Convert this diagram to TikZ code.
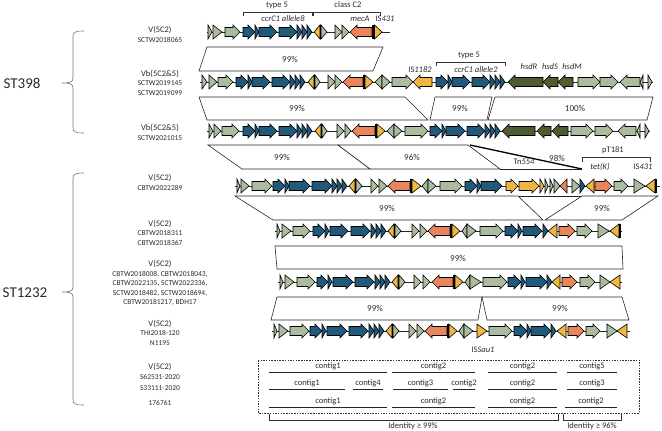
\documentclass[tikz,border=0pt]{standalone}
\usepackage{fontspec}
\setmainfont{Carlito}
\usepackage{xcolor}
\usepackage{tikz}
\definecolor{gsage}{HTML}{AABB9E}
\definecolor{gblue}{HTML}{21597A}
\definecolor{gyell}{HTML}{EDB740}
\definecolor{gorng}{HTML}{E9845B}
\definecolor{golive}{HTML}{4E5C30}
\definecolor{lbltext}{HTML}{2B2B2B}
\tikzset{
  orf/.style={draw=black, line width=0.6pt, line join=miter},
  spine/.style={draw=black!85, line width=0.6pt},
  ident/.style={draw=black!85, fill=white, line width=0.6pt},
  pct/.style={font=\fontsize{9}{10}\selectfont, text=lbltext, inner sep=0.5pt},
  glbl/.style={font=\fontsize{8.5}{10}\selectfont\itshape, text=lbltext, inner sep=0.5pt},
  blbl/.style={font=\fontsize{8.5}{10}\selectfont, text=lbltext, inner sep=0.5pt},
  strain/.style={align=center, font=\fontsize{7.5}{9.5}\selectfont, text=lbltext, inner sep=0pt},
  stlbl/.style={font=\fontsize{15}{18}\selectfont, text=lbltext, inner sep=0pt},
  brk/.style={draw=black!80, line width=0.5pt},
  brc/.style={draw=black!55, line width=0.6pt},
  ctg/.style={draw=black!85, line width=1pt},
  ctglbl/.style={above=1.5pt, font=\fontsize{8.5}{10}\selectfont, text=lbltext, inner sep=0.5pt},
}
% gene glyphs: x start, x end, y, fill
\newcommand{\orfR}[4]{\filldraw[orf, fill=#4] (#1,#3-4.5) -- (#2-7,#3-4.5) -- (#2-7,#3-7) -- (#2,#3)
  -- (#2-7,#3+7) -- (#2-7,#3+4.5) -- (#1,#3+4.5) -- cycle;}
\newcommand{\orfL}[4]{\filldraw[orf, fill=#4] (#2,#3-4.5) -- (#1+7,#3-4.5) -- (#1+7,#3-7) -- (#1,#3)
  -- (#1+7,#3+7) -- (#1+7,#3+4.5) -- (#2,#3+4.5) -- cycle;}
\newcommand{\orfr}[4]{\filldraw[orf, fill=#4] (#1,#3-7) -- (#2,#3) -- (#1,#3+7) -- cycle;}
\newcommand{\orfl}[4]{\filldraw[orf, fill=#4] (#2,#3-7) -- (#1,#3) -- (#2,#3+7) -- cycle;}
\newcommand{\orfB}[4]{\fill[#4] (#1,#3-7) rectangle (#2,#3+7);}
\newcommand{\orfrow}[4]{%
  \draw[spine] (#2,#1) -- (#3,#1);
  \foreach \xa/\xb/\kind/\col in {#4} {\csname orf\kind\endcsname{\xa}{\xb}{#1}{\col}}}
\newcommand{\stbrace}[3]{%
  \draw[brc] (84,#1) .. controls (76,#1) and (73,#1+1) .. (73,#1+5) -- (73,#2-5)
    .. controls (73,#2-1) and (70,#2) .. (62,#2) .. controls (70,#2) and (73,#2+1) .. (73,#2+5)
    -- (73,#3-5) .. controls (73,#3-1) and (76,#3) .. (84,#3);}
\newcommand{\contig}[4]{\draw[ctg] (#1,#3) -- node[ctglbl] {#4} (#2,#3);}

\begin{document}
\begin{tikzpicture}[x=1pt, y=-1pt]
  \useasboundingbox (0,0) rectangle (662,431);

  % lineage braces and strain labels
  \node[stlbl] (st398) at (22,83) {ST398};
  \node[stlbl] (st1232) at (25,293) {ST1232};
  \stbrace{31}{83}{133}
  \stbrace{173}{292}{405}

  \node[strain] (s1) at (160,34.5) {{\fontsize{8.5}{9.5}\selectfont V(5C2)}\\SCTW2018065};
  \node[strain] (s2) at (160,82.5) {{\fontsize{8.5}{9.5}\selectfont Vb(5C2\&5)}\\SCTW2019145\\SCTW2019099};
  \node[strain] (s3) at (160,132.5) {{\fontsize{8.5}{9.5}\selectfont Vb(5C2\&5)}\\SCTW2021015};
  \node[strain] (s4) at (160,182.5) {{\fontsize{8.5}{9.5}\selectfont V(5C2)}\\CBTW2022289};
  \node[strain] (s5) at (160,232.5) {{\fontsize{8.5}{9.5}\selectfont V(5C2)}\\CBTW2018311\\CBTW2018367};
  \node[strain] (s6) at (160,283) {{\fontsize{8.5}{9.5}\selectfont V(5C2)}\\CBTW2018008, CBTW2018043,\\
    CBTW2022135, SCTW2022336,\\SCTW2018482, SCTW2018694,\\CBTW20181217, BDH17};
  \node[strain] (s7) at (160,332.5) {{\fontsize{8.5}{9.5}\selectfont V(5C2)}\\THI2018-120\\N1195};
  \node[strain] (s8) at (160,371.5) {{\fontsize{8.5}{9.5}\selectfont V(5C2)}\\S62531-2020};
  \node[strain] (s8b) at (160,388) {S33111-2020};
  \node[strain] (s8c) at (160,403) {176761};

  % identity blocks
  \draw[ident] (207,47) -- (383,47) -- (373,71) -- (199,71) -- cycle;
  \node[pct] (p1) at (290,59) {99\%};
  \draw[ident] (199,97) -- (405,97) -- (428,120) -- (207,120) -- cycle;
  \node[pct] (p2) at (297,108) {99\%};
  \draw[ident] (435,97) -- (492,97) -- (487,120) -- (430,120) -- cycle;
  \node[pct] (p3) at (460,108) {99\%};
  \draw[ident] (495,97) -- (653,97) -- (647,120) -- (488,120) -- cycle;
  \node[pct] (p4) at (575,108) {100\%};
  \draw[ident] (208,145) -- (338,145) -- (370,169) -- (242,169) -- cycle;
  \node[pct] (p5) at (282,157) {99\%};
  \draw[ident] (338,145) -- (468,145) -- (500,169) -- (370,169) -- cycle;
  \node[pct] (p6) at (412,157) {96\%};
  \draw[ident] (500,169) -- (582,169);
  \draw[draw=black, line width=1.3pt] (470,145) -- (582,169);
  \node[pct] (p7) at (557,158) {98\%};
  \draw[ident] (518,196) -- (582,196);
  \draw[ident] (235,196) -- (518,196) -- (543,220) -- (273,220) -- cycle;
  \node[pct] (p8) at (387,208) {99\%};
  \draw[ident] (582,196) -- (658,196) -- (622,220) -- (545,220) -- cycle;
  \node[pct] (p9) at (602,208) {99\%};
  \draw[ident] (275,246) -- (622,246) -- (623,269) -- (277,269) -- cycle;
  \node[pct] (p10) at (458,258) {99\%};
  \draw[ident] (277,297) -- (482,297) -- (478,320) -- (271,320) -- cycle;
  \node[pct] (p11) at (375,308) {99\%};
  \draw[ident] (482,297) -- (622,297) -- (629,320) -- (487,320) -- cycle;
  \node[pct] (p12) at (560,308) {99\%};

  % gene maps
  \orfrow{32}{207}{390}{208/212/r/gsage, 213/222/r/gsage, 225/240/R/gsage, 243/255/R/gblue,
    255/259/r/gblue, 259/277/R/gblue, 279/297/R/gblue, 297/302/r/gblue, 302/307/r/gblue,
    307/312/r/gblue, 314/320/l/gyell, 320/321/B/black, 321/327/r/gsage, 335/342/r/gsage,
    342/349/r/gsage, 350/372/L/gorng, 372/374.5/B/black, 374.5/382/r/gyell}
  \orfrow{82}{200}{653}{202/207/r/gsage, 209/217/r/gsage, 218/233/R/gsage, 236/248/R/gblue,
    248/252/r/gblue, 252/270/R/gblue, 272/290/R/gblue, 290/295/r/gblue, 295/300/r/gblue,
    300/305/r/gblue, 308/314/l/gyell, 314/315/B/black, 315/320/r/gsage, 328/335/r/gsage,
    335/342/r/gsage, 343/363/L/gorng, 363/365/B/black, 365/373/r/gyell, 375/382/l/gsage,
    382/390/r/gsage, 392/413/R/gsage, 413/432/L/gyell, 436/448/R/gblue, 448/452/r/gblue,
    452/470/R/gblue, 472/490/R/gblue, 490/495/r/gblue, 495/500/r/gblue, 500/505/r/gblue,
    508/543/L/golive, 543/558/L/golive, 558/573/L/golive, 578/600/R/gsage, 600/618/R/gsage,
    620/640/L/gsage, 640/643/l/gsage, 648/652/r/gsage}
  \orfrow{131}{207}{650}{209/213/r/gsage, 214/221/r/gsage, 222/239/R/gsage, 243/255/R/gblue,
    255/259/r/gblue, 259/277/R/gblue, 279/297/R/gblue, 297/302/r/gblue, 302/307/r/gblue,
    307/312/r/gblue, 315/321/l/gyell, 321/322/B/black, 322/327/r/gsage, 337/344/r/gsage,
    345/351/r/gsage, 352/375/L/gorng, 375/377/B/black, 377/385/r/gyell, 387/394/l/gsage,
    394/402/r/gsage, 405/428/R/gsage, 430/442/R/gblue, 442/446/r/gblue, 446/465/R/gblue,
    467/485/R/gblue, 485/490/r/gblue, 490/495/r/gblue, 495/500/r/gblue, 502/535/L/golive,
    537/551/L/golive, 552/568/L/golive, 571/593/R/gsage, 595/613/R/gsage, 618/636/L/gsage,
    637/640/l/gsage, 645/649/r/gsage}
  \orfrow{186}{235}{660}{237/240/r/gsage, 241/249/r/gsage, 252/272/R/gsage, 273/285/R/gblue,
    285/289/r/gblue, 289/310/R/gblue, 312/332/R/gblue, 332/337/r/gblue, 337/342/r/gblue,
    342/347/r/gblue, 349/355/l/gyell, 355/356/B/black, 356/362/r/gsage, 371/378/r/gsage,
    379/387/r/gsage, 388/410/L/gorng, 410/412/B/black, 412/421/r/gyell, 422/428/l/gsage,
    428/436/r/gsage, 440/462/R/gsage, 465/477/R/gblue, 477/481/r/gblue, 481/502/R/gblue,
    506/518/R/gyell, 519/539/R/gyell, 540/544/r/gyell, 545/548/r/gsage, 550/553/r/gsage,
    554/560/r/gsage, 560/567/l/gorng, 572/580/r/gsage, 580/585/r/gblue, 586/594/l/gyell,
    595/612/R/gorng, 614/628/R/gsage, 634/645/r/gsage, 646/655/l/gyell, 655/657/B/black}
  \orfrow{231}{275}{622}{277/280/r/gsage, 282/291/r/gsage, 293/310/R/gsage, 313/325/R/gblue,
    325/329/r/gblue, 330/348/R/gblue, 351/370/R/gblue, 371/376/r/gblue, 376/381/r/gblue,
    381/386/r/gblue, 388/394/l/gyell, 394/395/B/black, 395/401/r/gsage, 412/419/r/gsage,
    420/427/r/gsage, 428/450/L/gorng, 450/452/B/black, 452/460/r/gyell, 462/467/l/gsage,
    467/476/r/gsage, 480/503/R/gsage, 505/518/R/gblue, 518/522/r/gblue, 523/542/R/gblue,
    543/548/r/gblue, 548/557/l/gyell, 559/575/R/gorng, 577/592/R/gsage, 598/609/r/gsage,
    610/619/l/gyell, 619/621/B/black}
  \orfrow{282}{278}{622}{280/283/r/gsage, 285/294/r/gsage, 297/315/R/gsage, 317/328/R/gblue,
    328/332/r/gblue, 333/353/R/gblue, 355/374/R/gblue, 375/380/r/gblue, 380/385/r/gblue,
    385/390/r/gblue, 392/398/l/gyell, 398/399/B/black, 399/405/r/gsage, 414/421/r/gsage,
    423/430/r/gsage, 432/453/L/gorng, 453/455/B/black, 455/463/r/gyell, 465/470/l/gsage,
    470/481/r/gsage, 483/507/R/gsage, 508/521/R/gblue, 521/525/r/gblue, 526/547/R/gblue,
    547/552/r/gblue, 552/560/l/gyell, 562/577/R/gorng, 580/595/R/gsage, 600/610/r/gsage,
    610/620/l/gyell}
  \orfrow{331}{272}{630}{274/277/r/gsage, 279/288/r/gsage, 290/309/R/gsage, 310/322/R/gblue,
    322/326/r/gblue, 327/347/R/gblue, 349/368/R/gblue, 369/374/r/gblue, 374/379/r/gblue,
    379/384/r/gblue, 386/392/l/gyell, 392/393/B/black, 393/399/r/gsage, 409/416/r/gsage,
    417/424/r/gsage, 425/447/L/gorng, 447/449/B/black, 449/457/r/gyell, 459/464/l/gsage,
    464/473/r/gsage, 477/487/r/gyell, 489/512/R/gsage, 514/527/R/gblue, 527/531/r/gblue,
    531/551/R/gblue, 551/556/r/gblue, 557/566/l/gyell, 568/584/R/gorng, 586/600/R/gsage,
    607/617/r/gsage, 617/627/l/gyell}

  % element brackets and gene names
  \draw[brk] (243,16) -- (243,12) -- (312,12) -- (312,16);
  \draw[brk] (313,16) -- (313,12) -- (380,12) -- (380,16);
  \node[blbl] (type5a) at (277,5) {type 5};
  \node[blbl] (classc2) at (348,5) {class C2};
  \node[glbl] (ccra) at (283,19) {ccrC1 allele8};
  \node[glbl] (meca) at (360,19) {mecA};
  \node[blbl] (is431a) at (385,19) {IS\textit{431}};

  \draw[brk] (436,66) -- (436,62) -- (505,62) -- (505,66);
  \node[blbl] (type5b) at (469,55) {type 5};
  \node[blbl] (is1182) at (420,70) {IS\textit{1182}};
  \node[glbl] (ccrb) at (476,70) {ccrC1 allele2};
  \node[glbl] (hsdr) at (529,67) {hsdR};
  \node[glbl] (hsds) at (550,67) {hsdS};
  \node[glbl] (hsdm) at (572,67) {hsdM};

  \node[blbl] (tn554) at (524,162) {Tn\textit{554}};
  \draw[brk] (582,162) -- (582,157) -- (650,157) -- (650,162);
  \node[blbl] (pt181) at (613,150) {pT181};
  \node[glbl] (tetk) at (600,167) {tet(K)};
  \node[blbl] (is431b) at (643,167) {IS\textit{431}};
  \node[blbl] (issau1) at (483,350) {IS\textit{Sau1}};

  % draft assemblies
  \draw[dash pattern=on 1.5pt off 1.2pt, draw=black!80, line width=0.6pt] (258,360) rectangle (639,413);
  \contig{269}{387}{372}{contig1}
  \contig{392}{475}{372}{contig2}
  \contig{488}{557}{372}{contig2}
  \contig{567}{617}{372}{contig5}
  \contig{269}{345}{389}{contig1}
  \contig{353}{383}{389}{contig4}
  \contig{393}{448}{389}{contig3}
  \contig{453}{475}{389}{contig2}
  \contig{488}{557}{389}{contig2}
  \contig{567}{617}{389}{contig3}
  \contig{269}{387}{407}{contig1}
  \contig{392}{475}{407}{contig2}
  \contig{488}{557}{407}{contig2}
  \contig{565}{617}{407}{contig2}

  \draw[brk] (269,414) -- (269,420) -- (558,420) -- (558,414);
  \node[blbl] (id99) at (413,426) {Identity ≥ 99\%};
  \draw[brk] (563,414) -- (563,420) -- (621,420) -- (621,414);
  \node[blbl] (id96) at (592,426) {Identity ≥ 96\%};
\end{tikzpicture}
\end{document}
